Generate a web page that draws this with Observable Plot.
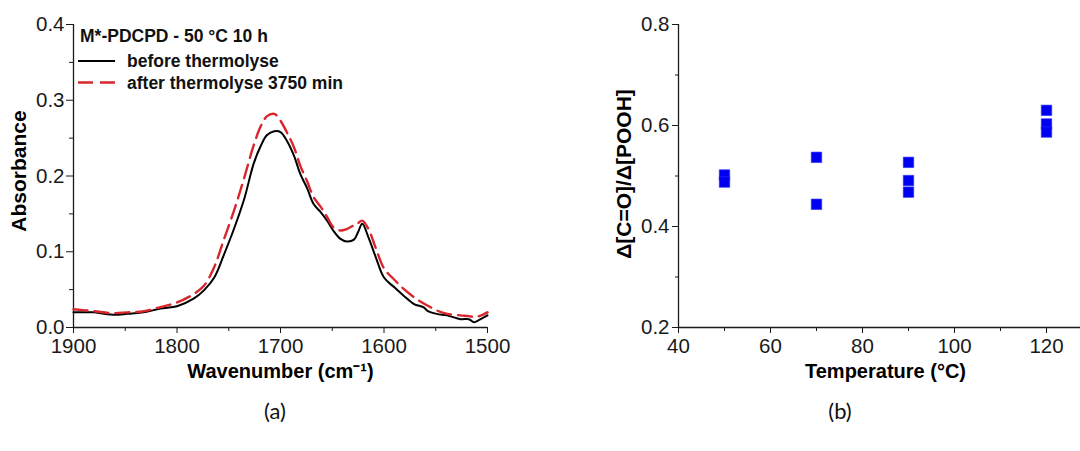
<!DOCTYPE html>
<html><head><meta charset="utf-8">
<script src="https://cdn.jsdelivr.net/npm/d3@7"></script>
<script src="https://cdn.jsdelivr.net/npm/@observablehq/plot@0.6"></script>
<style>
html,body{margin:0;padding:0;background:#fff;overflow:hidden;}
#wrap{position:relative;width:1080px;height:451px;overflow:hidden;background:#fff;}
.panel{position:absolute;top:0;}
.cap{position:absolute;top:397px;width:100px;text-align:center;font-family:Lato,"Open Sans",sans-serif;font-size:22px;color:#111;}
</style></head>
<body><div id="wrap"></div>
<script>
// ---------- Panel (a) data ----------
const wavenumber = [1900,1880,1864,1848,1832,1816,1800,1784,1774,1764,1755,1745,1735,1726,1719,1713,1706,1700,1694,1687,1681,1674,1668,1661,1655,1649,1642,1636,1629,1625,1621,1615,1608,1600,1590,1581,1571,1562,1558,1549,1539,1526,1518,1513,1508,1500];
const absBefore  = [0.020,0.020,0.017,0.018,0.020,0.025,0.028,0.038,0.049,0.066,0.095,0.130,0.170,0.216,0.240,0.254,0.259,0.258,0.247,0.227,0.203,0.183,0.163,0.152,0.141,0.128,0.117,0.1135,0.116,0.126,0.137,0.119,0.093,0.066,0.053,0.042,0.031,0.027,0.022,0.018,0.016,0.011,0.011,0.007,0.010,0.016];
const absAfter   = [0.024,0.0215,0.019,0.020,0.0215,0.027,0.033,0.044,0.055,0.080,0.115,0.154,0.198,0.240,0.266,0.279,0.282,0.273,0.258,0.238,0.214,0.192,0.172,0.159,0.146,0.1325,0.128,0.130,0.135,0.138,0.141,0.130,0.105,0.078,0.063,0.051,0.040,0.032,0.029,0.0225,0.018,0.016,0.015,0.014,0.015,0.020];
const seriesNames = ["before thermolyse", "after thermolyse 3750 min"];
const legendTitle = "M*-PDCPD - 50 °C 10 h";
const xTicksA = [1900,1800,1700,1600,1500];
const xMinorA = [1850,1750,1650,1550];
const yTicksA = [0,0.1,0.2,0.3,0.4];
const yMinorA = [0.05,0.15,0.25,0.35];

// ---------- Panel (b) data ----------
const temperature = [50,50,70,70,90,90,90,120,120,120];
const ratio       = [0.502,0.488,0.537,0.444,0.527,0.491,0.468,0.630,0.603,0.587];
const xTicksB = [40,60,80,100,120];
const xMinorB = [50,70,90,110,130];
const yTicksB = [0.2,0.4,0.6,0.8];
const yMinorB = [0.3,0.5,0.7];

const captions = ["(a)", "(b)"];

const RED = "#d8262c", BLUE = "#0000f0", AX = "#1a1a1a";
const baseStyle = {fontFamily: "'Liberation Sans', Arial, sans-serif", fontSize: "20.5px", color: AX, background: "transparent", overflow: "visible"};

const before = wavenumber.map((w, i) => ({w, a: absBefore[i]}));
const after = wavenumber.map((w, i) => ({w, a: absAfter[i]}));

const plotA = Plot.plot({
  width: 540, height: 390, marginLeft: 73, marginRight: 53, marginTop: 24, marginBottom: 63,
  style: baseStyle,
  x: {domain: [1900, 1500]},
  y: {domain: [0, 0.4]},
  marks: [
    Plot.axisX(xTicksA, {tickSize: 6, tickPadding: 5, tickFormat: d => String(d), label: null}),
    Plot.axisX(xMinorA, {tickSize: 4, tickFormat: () => "", label: null}),
    Plot.axisY(yTicksA, {tickSize: 7, tickPadding: 2, tickFormat: d3.format(".1f"), label: null}),
    Plot.axisY(yMinorA, {tickSize: 4, tickFormat: () => "", label: null}),
    Plot.ruleY([0], {stroke: AX, strokeWidth: 1.3}),
    Plot.ruleX([1900], {stroke: AX, strokeWidth: 1.3}),
    Plot.line(before, {x: "w", y: "a", stroke: "#000", strokeWidth: 2, curve: "catmull-rom"}),
    Plot.line(after, {x: "w", y: "a", stroke: RED, strokeWidth: 2.4, strokeDasharray: "14,7", curve: "catmull-rom"}),
    Plot.text(["Wavenumber (cm⁻¹)"], {frameAnchor: "bottom", dy: 36, lineAnchor: "top", fontWeight: "bold", fontSize: 20, fill: "#000"}),
    Plot.text(["Absorbance"], {frameAnchor: "left", textAnchor: "middle", dx: -54, dy: -5, rotate: -90, fontWeight: "bold", fontSize: 21, fill: "#000"})
  ]
});

const points = temperature.map((t, i) => ({t, r: ratio[i]}));
const plotB = Plot.plot({
  width: 540, height: 390, marginLeft: 118, marginRight: 8, marginTop: 24, marginBottom: 63,
  style: baseStyle,
  x: {domain: [40, 130]},
  y: {domain: [0.2, 0.8]},
  marks: [
    Plot.axisX(xTicksB, {tickSize: 6, tickPadding: 5, tickFormat: d => String(d), label: null}),
    Plot.axisX(xMinorB, {tickSize: 4, tickFormat: () => "", label: null}),
    Plot.axisY(yTicksB, {tickSize: 6, tickPadding: 3, tickFormat: d3.format(".1f"), label: null}),
    Plot.axisY(yMinorB, {tickSize: 3, tickFormat: () => "", label: null}),
    Plot.ruleY([0.2], {stroke: AX, strokeWidth: 1.3}),
    Plot.ruleX([40], {stroke: AX, strokeWidth: 1.3}),
    Plot.dot(points, {x: "t", y: "r", symbol: "square", r: 5.9, fill: BLUE, stroke: "#2a2aff", strokeWidth: 0.6}),
    Plot.text(["Temperature (°C)"], {frameAnchor: "bottom", dy: 36, lineAnchor: "top", fontWeight: "bold", fontSize: 20, fill: "#000"}),
    Plot.text(["Δ[C=O]/Δ[POOH]"], {frameAnchor: "left", textAnchor: "middle", dx: -54, dy: -2, rotate: -90, fontWeight: "bold", fontSize: 21, fill: "#000"})
  ]
});

// legend for panel (a)
const legendItems = [
  {label: seriesNames[0], stroke: "#000", width: 2, dash: null},
  {label: seriesNames[1], stroke: RED, width: 2.4, dash: "15,7"}
];
const lg = d3.select(plotA).append("g")
  .attr("font-family", "'Liberation Sans', Arial, sans-serif")
  .attr("font-weight", "bold").attr("font-size", 17.5).attr("fill", "#111")
  .attr("text-anchor", "start");
lg.append("text").attr("x", 80).attr("y", 42).attr("text-anchor", "start").text(legendTitle);
legendItems.forEach((d, i) => {
  const y = 61 + i * 21.5;
  lg.append("line").attr("x1", 78).attr("x2", 115).attr("y1", y).attr("y2", y)
    .attr("stroke", d.stroke).attr("stroke-width", d.width).attr("stroke-dasharray", d.dash);
  lg.append("text").attr("x", 127).attr("y", y + 6).attr("text-anchor", "start").text(d.label);
});

const wrap = document.getElementById("wrap");
plotA.classList.add("panel"); plotA.style.left = "0px";
plotB.classList.add("panel"); plotB.style.left = "560px";
wrap.appendChild(plotA);
wrap.appendChild(plotB);
[275, 840].forEach((cx, i) => {
  const c = document.createElement("div");
  c.className = "cap"; c.style.left = (cx - 50) + "px"; c.textContent = captions[i];
  wrap.appendChild(c);
});
</script>
</body></html>
